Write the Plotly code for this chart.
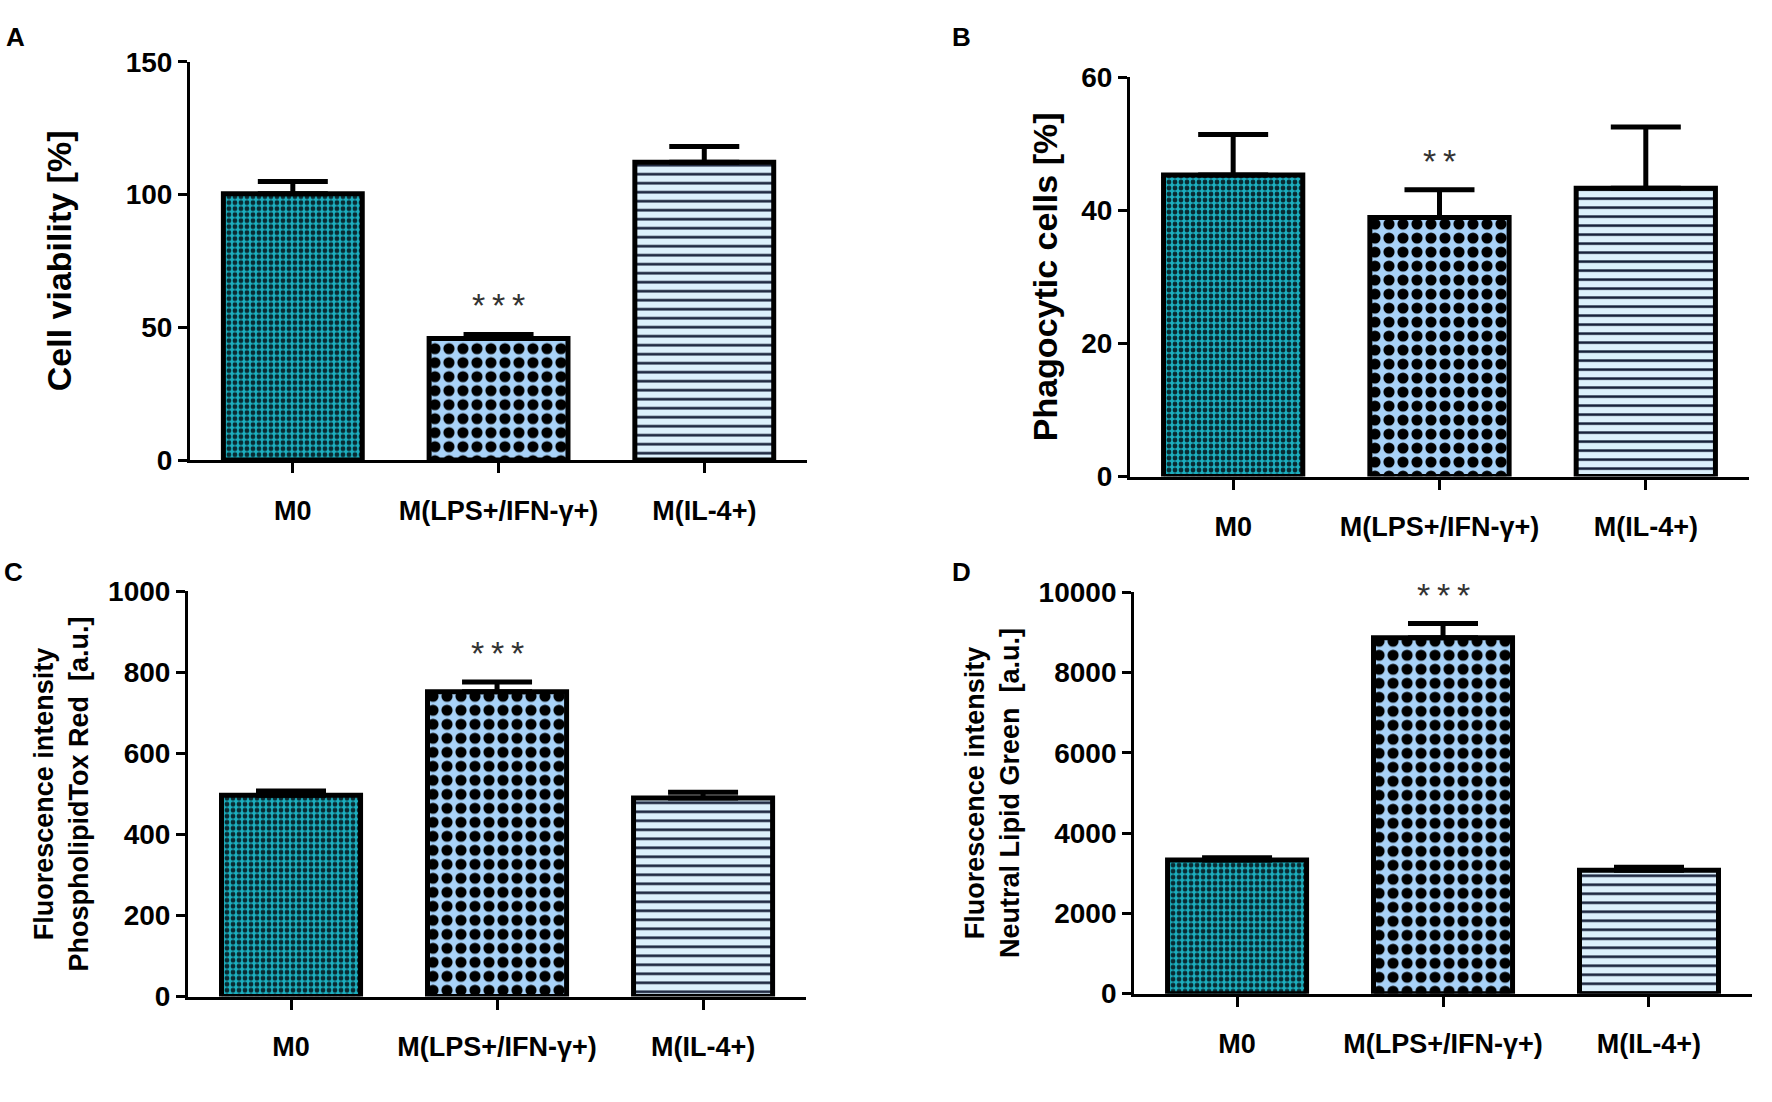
import plotly.graph_objects as go

groups = ["M0", "M(LPS+/IFN-γ+)", "M(IL-4+)"]

viability = [100.3, 45.8, 112.1]
viability_err = [4.6, 1.5, 6.0]

phagocytic = [45.3, 38.9, 43.3]
phagocytic_err = [6.1, 4.2, 9.2]

phospholipid = [497, 752, 490]
phospholipid_err = [10, 24, 14]

neutral_lipid = [3330, 8870, 3075]
neutral_lipid_err = [57, 350, 73]

significance = ["*\u2009*\u2009*", "*\u2009*", "*\u2009*\u2009*", "*\u2009*\u2009*"]

# one fill per group: fine teal checks, black/blue checks, navy stripes
patterns = [
    dict(shape=".", bgcolor="#1cafbf", fgcolor="#0a2a31", size=6, solidity=0.5),
    dict(shape=".", bgcolor="#a8d2f8", fgcolor="#000000", size=14, solidity=0.5),
    dict(shape="-", bgcolor="#dcf0fc", fgcolor="#131c36", size=9, solidity=0.28),
]

panels = [
    dict(letter="A", values=viability, err=viability_err, title="Cell viability [%]",
         yrange=[0, 150], dtick=50, xdom=[0.1072, 0.4555], ydom=[0.5844, 0.9564],
         tsize=34, standoff=44, lx=0.002, ly=0.995),
    dict(letter="B", values=phagocytic, err=phagocytic_err, title="Phagocytic cells [%]",
         yrange=[0, 60], dtick=20, xdom=[0.6377, 0.9870], ydom=[0.569, 0.942],
         tsize=34, standoff=14, lx=0.536, ly=0.995),
    dict(letter="C", values=phospholipid, err=phospholipid_err,
         title="Fluorescence intensity<br>PhospholipidTox Red  [a.u.]",
         yrange=[0, 1000], dtick=200, xdom=[0.1061, 0.4549], ydom=[0.0835, 0.4619],
         tsize=27, standoff=12, lx=0.001, ly=0.496),
    dict(letter="D", values=neutral_lipid, err=neutral_lipid_err,
         title="Fluorescence intensity<br>Neutral Lipid Green  [a.u.]",
         yrange=[0, 10000], dtick=2000, xdom=[0.6400, 0.9887], ydom=[0.0862, 0.461],
         tsize=27, standoff=12, lx=0.536, ly=0.496),
]

fig = go.Figure()
annotations = []

for i, p in enumerate(panels):
    n = "" if i == 0 else str(i + 1)
    xa, ya = "x" + n, "y" + n
    for j, g in enumerate(groups):
        pt = patterns[j]
        fig.add_trace(go.Bar(
            x=[g], y=[p["values"][j]], xaxis=xa, yaxis=ya, showlegend=False, width=0.675,
            marker=dict(color=pt["bgcolor"],
                        pattern=dict(shape=pt["shape"], fgcolor=pt["fgcolor"], fgopacity=1,
                                     size=pt["size"], solidity=pt["solidity"],
                                     fillmode="overlay"),
                        line=dict(color="black", width=5)),
            error_y=dict(type="data", symmetric=False, array=[p["err"][j]], arrayminus=[0],
                         color="black", thickness=5, width=35),
        ))
    fig.layout["xaxis" + n] = dict(
        domain=p["xdom"], anchor=ya, range=[-0.5, 2.5], showline=True, linecolor="black",
        linewidth=3, ticks="outside", ticklen=10, tickwidth=3, tickcolor="black",
        ticklabelstandoff=14, showgrid=False, zeroline=False,
        tickfont=dict(family="Liberation Sans, Arial", size=27, color="black", weight="bold"))
    fig.layout["yaxis" + n] = dict(
        domain=p["ydom"], anchor=xa, range=p["yrange"], dtick=p["dtick"], tickformat="d",
        showline=True, linecolor="black", linewidth=3, ticks="outside", ticklen=9,
        tickwidth=3, tickcolor="black", showgrid=False, zeroline=False,
        tickfont=dict(family="Liberation Sans, Arial", size=28, color="black", weight="bold"),
        title=dict(text=p["title"], standoff=p["standoff"],
                   font=dict(family="Liberation Sans, Arial", size=p["tsize"],
                             color="black", weight="bold")))
    star_y = p["values"][1] + p["err"][1]
    annotations.append(dict(x=groups[1], y=star_y, xref=xa, yref=ya, text=significance[i],
                            showarrow=False, yanchor="bottom", yshift=8,
                            font=dict(family="Liberation Sans, Arial", size=34, color="#333333")))
    annotations.append(dict(x=p["lx"], y=p["ly"], xref="paper", yref="paper",
                            text=p["letter"], showarrow=False, xanchor="left", yanchor="top",
                            font=dict(family="Liberation Sans, Arial", size=26,
                                      color="black", weight="bold")))

fig.update_layout(
    width=1772, height=1102, margin=dict(l=0, r=0, t=0, b=0),
    plot_bgcolor="white", paper_bgcolor="white", barmode="overlay",
    annotations=annotations,
)

fig.write_html("out.html", config={"displayModeBar": False},
               post_script="document.body.style.margin='0';")
